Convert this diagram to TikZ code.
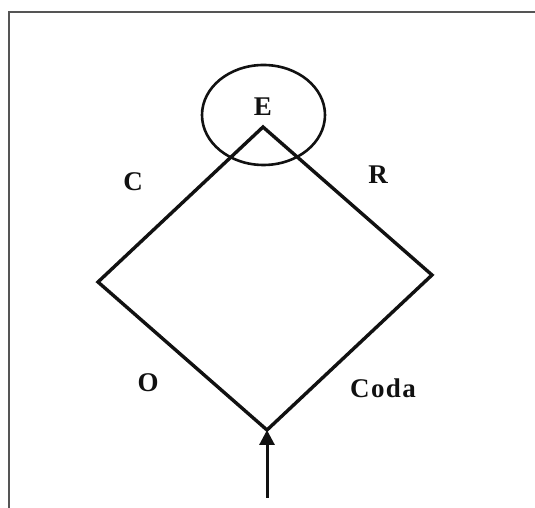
\documentclass[tikz,border=0pt]{standalone}
\usepackage{fontspec}
\setmainfont{Liberation Serif}[LetterSpace=5]
\usetikzlibrary{arrows.meta, positioning, shapes.geometric}
\definecolor{edge}{HTML}{111111}
\definecolor{frame}{HTML}{555555}
\tikzset{
  x=1pt, y=1pt,
  edge/.style={draw=edge, line width=3.4pt, line join=miter},
  frame/.style={draw=frame, line width=2.2pt},
  part-label/.style={font=\fontsize{27}{31}\selectfont\bfseries, text=edge, inner sep=0pt},
  % Ring round the nucleus
  nucleus/.style={ellipse, draw=edge, line width=2.6pt, minimum width=123pt, minimum height=100pt, inner sep=0pt}
}
\begin{document}
\begin{tikzpicture}

  \useasboundingbox (0, 0) rectangle (535, 508);

  % ---- Frame ---------------------------------------------------------------
  \coordinate (frameBL) at (9, 0);
  \coordinate (frameTL) at (9, 496);
  \coordinate (frameTR) at (535, 496);
  \draw[frame] (frameBL) -- (frameTL) -- (frameTR);

  % ---- Corners of the diamond ----------------------------------------------
  \coordinate (top)    at (263, 381);
  \coordinate (left)   at (98, 226);
  \coordinate (right)  at (432, 233);
  \coordinate (bottom) at (267, 78);
  \coordinate (base)   at (267, 10);

  % ---- Nucleus ring --------------------------------------------------------
  \node[nucleus] (ring) at (263.5, 393) {};
  \node[part-label] (E) at (263, 401) {E};

  % ---- Diamond -------------------------------------------------------------
  \draw[edge] (top) -- (left) -- (bottom) -- (right) -- cycle;

  % ---- Labels --------------------------------------------------------------
  \node[part-label] (C)    at (133, 326) {C};
  \node[part-label] (R)    at (378, 333) {R};
  \node[part-label] (O)    at (148, 125) {O};
  \node[part-label] (Coda) at (383, 120) {Coda};

  % ---- Entry arrow ---------------------------------------------------------
  \draw[edge, line width=3pt, -{Triangle[length=15pt, width=15pt]}] (base) -- (bottom);

\end{tikzpicture}
\end{document}
